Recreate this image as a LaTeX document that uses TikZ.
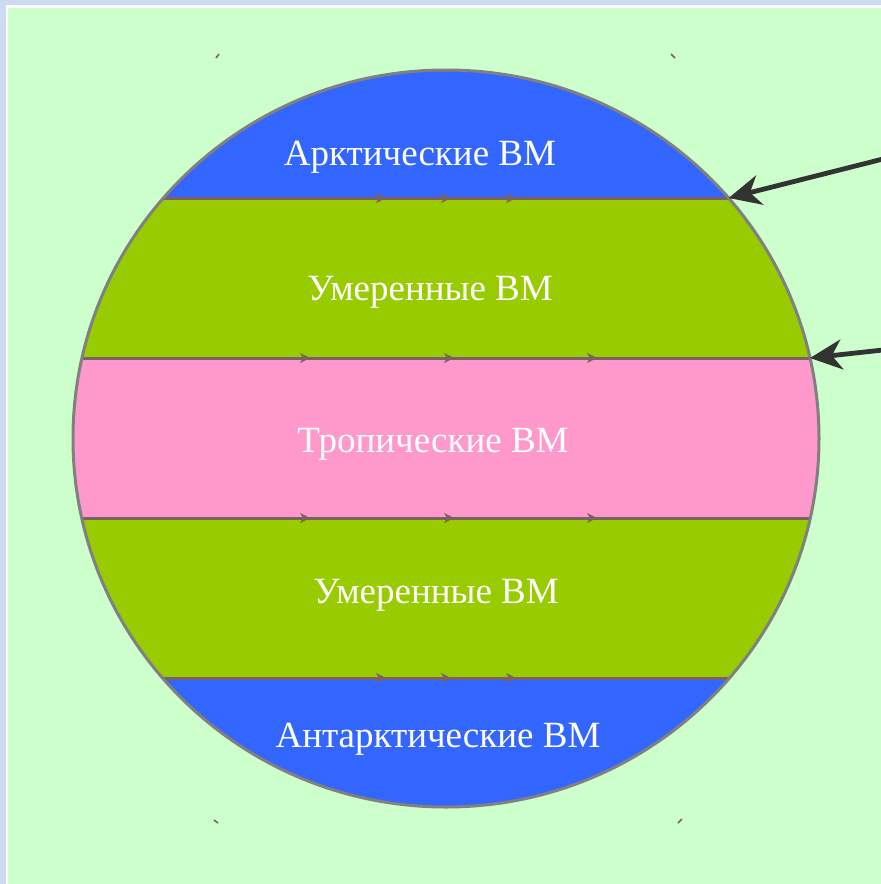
\documentclass[tikz,border=0pt]{standalone}
\usepackage{fontspec}
\setmainfont{Liberation Serif}
\usepackage{tikz}
\usetikzlibrary{arrows.meta}
\definecolor{frame}{HTML}{CCDAF2}
\definecolor{field}{HTML}{CCFFCC}
\definecolor{polar}{HTML}{3366FF}
\definecolor{temperate}{HTML}{99CC00}
\definecolor{tropic}{HTML}{FF99CC}
\definecolor{rim}{HTML}{808080}
\definecolor{front}{HTML}{7A6262}
\definecolor{pointer}{HTML}{333333}
\tikzset{
  frontline/.style={draw=front, line width=1.5pt},
  flowtip/.style={draw=front, line width=0.6pt, -{Stealth[length=5pt, width=5pt, inset=1.5pt]}},
  rimline/.style={draw=rim, line width=1.5pt},
  lab/.style={text=white, font=\fontsize{18.5}{20}\selectfont, inner sep=0pt},
  pointarrow/.style={draw=pointer, line width=2.4pt, -{Stealth[length=16pt, width=15pt, inset=5pt]}},
  tick/.style={draw=front, line width=0.8pt},
}
\begin{document}
\begin{tikzpicture}[x=0.5pt, y=-0.5pt]
\useasboundingbox (0,0) rectangle (881,884);
\fill[frame] (0,0) rectangle (881,884);
\fill[white] (6,5) rectangle (881,884);
\fill[field] (8,8) rectangle (881,884);

\coordinate (O) at (446,438.5);

% latitude bands, clipped to the globe
\begin{scope}
  \clip (O) ellipse [x radius=373, y radius=368.5];
  \fill[polar] (60,60) rectangle (830,198);
  \fill[temperate] (60,198) rectangle (830,358);
  \fill[tropic] (60,358) rectangle (830,518);
  \fill[temperate] (60,518) rectangle (830,678);
  \fill[polar] (60,678) rectangle (830,820);
\end{scope}

% fronts between air masses
\coordinate (a1) at (163.4,198); \coordinate (b1) at (728.6,198);
\coordinate (a2) at (82,358);    \coordinate (b2) at (810,358);
\coordinate (a3) at (81.8,518);  \coordinate (b3) at (810.2,518);
\coordinate (a4) at (162.5,678); \coordinate (b4) at (729.5,678);
\draw[frontline] (a1) -- (b1);
\draw[frontline] (a2) -- (b2);
\draw[frontline] (a3) -- (b3);
\draw[frontline] (a4) -- (b4);
\foreach \x in {386,451,516} {
  \draw[flowtip] (\x-3,198) -- (\x,198);
  \draw[flowtip] (\x-3,678) -- (\x,678);
}
\foreach \x in {310,454,597} {
  \draw[flowtip] (\x-3,358) -- (\x,358);
  \draw[flowtip] (\x-3,518) -- (\x,518);
}

\draw[rimline] (O) ellipse [x radius=373, y radius=368.5];

\node[lab] (arctic)  at (420,157) {Арктические ВМ};
\node[lab] (tempN)   at (430,292) {Умеренные ВМ};
\node[lab] (tropics) at (433,444) {Тропические ВМ};
\node[lab] (tempS)   at (436,595) {Умеренные ВМ};
\node[lab] (antarc)  at (438,739) {Антарктические ВМ};

% pointers from the right margin
\coordinate (p1) at (883,159);
\coordinate (p2) at (883,350);
\draw[pointarrow] (p1) -- (b1);
\draw[pointarrow] (p2) -- (b2);

% small corner marks
\draw[tick] (219,54) -- (216,58);
\draw[tick] (671,54) -- (675,58);
\draw[tick] (214,820) -- (218,823);
\draw[tick] (682,819) -- (678,823);
\end{tikzpicture}
\end{document}
